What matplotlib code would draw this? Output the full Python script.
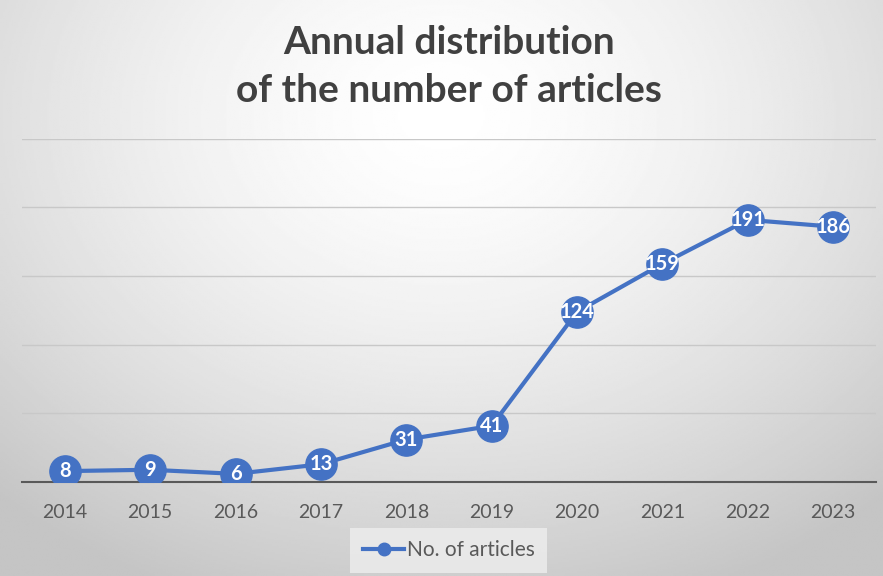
import numpy as np
import matplotlib
matplotlib.use('Agg')
import matplotlib.pyplot as plt

years = ['2014', '2015', '2016', '2017', '2018', '2019', '2020', '2021', '2022', '2023']
articles = [8, 9, 6, 13, 31, 41, 124, 159, 191, 186]

blue = '#4472C4'
plt.rcParams['font.family'] = ['Lato', 'DejaVu Sans']

fig = plt.figure(figsize=(8.83, 5.76), dpi=100)

# radial grey background, light near the top centre
bg = fig.add_axes([0, 0, 1, 1], zorder=-10)
yy, xx = np.mgrid[0:1:300j, 0:1:460j]
r = np.sqrt(((xx - 0.5) / 0.75) ** 2 + ((yy - 0.2) / 0.9) ** 2)
shade = 1.0 - 0.23 * np.clip(r, 0, 1) ** 1.5
bg.imshow(shade, cmap='gray', vmin=0, vmax=1, aspect='auto', extent=[0, 1, 1, 0])
bg.axis('off')

ax = fig.add_axes([0.025, 0.163, 0.967, 0.596])
ax.patch.set_alpha(0)
x = np.arange(len(years))
ax.plot(x, articles, color=blue, lw=3, marker='o', ms=22.5, mfc=blue, mec=blue,
        label='No. of articles', zorder=3)
for xi, v in zip(x, articles):
    ax.text(xi, v, str(v), ha='center', va='center', color='white',
            fontsize=14.5, fontweight='bold', zorder=4)

ax.set_xlim(-0.5, len(years) - 0.5)
ax.set_ylim(0, 250)
ax.set_yticks([0, 50, 100, 150, 200, 250])
ax.yaxis.grid(True, color='#c8c8c8', lw=1)
ax.set_axisbelow(True)
ax.tick_params(axis='y', left=False, labelleft=False)
ax.tick_params(axis='x', length=0, labelsize=14, labelcolor='#595959', pad=16)
ax.set_xticks(x)
ax.set_xticklabels(years)
for s in ['top', 'right', 'left']:
    ax.spines[s].set_visible(False)
ax.spines['bottom'].set_color('#595959')
ax.spines['bottom'].set_linewidth(1.5)

fig.text(0.508, 0.884, 'Annual distribution\nof the number of articles', ha='center',
         va='center', fontsize=28, fontweight='bold', color='#404040', linespacing=1.45)

leg = fig.legend(loc='center', bbox_to_anchor=(0.508, 0.045), frameon=True,
                 fontsize=15, handlelength=2.0, markerscale=0.4, handletextpad=0.1)
leg.get_frame().set_facecolor('#eeeeee')
leg.get_frame().set_edgecolor('none')
leg.get_frame().set_boxstyle('square', pad=0.2)
for t in leg.get_texts():
    t.set_color('#595959')

fig.savefig('out.png', dpi=100)
